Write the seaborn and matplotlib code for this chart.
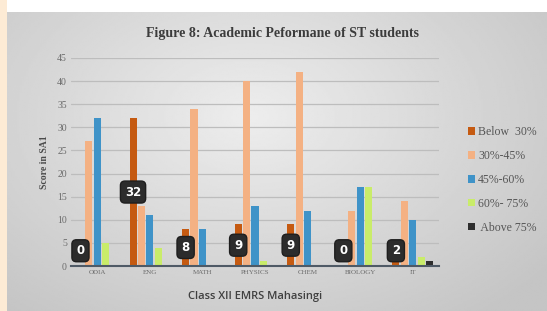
import numpy as np
import pandas as pd
import matplotlib
matplotlib.use("Agg")
import matplotlib.pyplot as plt
from matplotlib.patches import Rectangle
import seaborn as sns

subjects = ["ODIA", "ENG", "MATH", "PHYSICS", "CHEM", "BIOLOGY", "IT"]
bands = ["Below  30%", "30%-45%", "45%-60%", "60%- 75%", " Above 75%"]
below_30 = [0, 32, 8, 9, 9, 0, 2]
p30_45 = [27, 13, 34, 40, 42, 12, 14]
p45_60 = [32, 11, 8, 13, 12, 17, 10]
p60_75 = [5, 4, 0, 1, 0, 17, 2]
above_75 = [0, 0, 0, 0, 0, 0, 1]
colors = ["#C55A11", "#F4B183", "#3F93C8", "#C9EC6A", "#2E2E2E"]
title = "Figure 8: Academic Peformane of ST students"
xlabel = "Class XII EMRS Mahasingi"
ylabel = "Score in SA1"

series = [below_30, p30_45, p45_60, p60_75, above_75]
rows = []
for band, vals in zip(bands, series):
    for s, v in zip(subjects, vals):
        rows.append({"subject": s, "band": band, "score": v})
df = pd.DataFrame(rows)

sns.set_theme(style="white")
W, H = 547, 311
fig = plt.figure(figsize=(W / 100, H / 100), dpi=100)
fig.patch.set_facecolor("white")

# background: peach strip, white top, gray gradient panel
fig.add_artist(Rectangle((0, 0), 7 / W, 1, transform=fig.transFigure,
                         facecolor="#FDEBD5", edgecolor="none", zorder=-10))
bg = fig.add_axes([7 / W, 0, 1 - 7 / W, 1 - 12 / H], zorder=-5)
yy, xx = np.mgrid[0:1:200j, 0:1:300j]
r = np.sqrt(((xx - 0.45) / 0.75) ** 2 + ((yy - 0.35) / 0.9) ** 2)
grad = np.clip(0.93 - 0.17 * r, 0.77, 0.93)
bg.imshow(grad, cmap="gray", vmin=0, vmax=1, aspect="auto", extent=[0, 1, 0, 1])
bg.set_axis_off()

ax = fig.add_axes([71 / W, 1 - 266 / H, (439 - 71) / W, (266 - 58) / H])
ax.set_facecolor("none")
sns.barplot(data=df, x="subject", y="score", hue="band", order=subjects,
            hue_order=bands, palette=colors, width=0.8, saturation=1,
            linewidth=0, ax=ax, legend=True)
for c in ax.containers:
    for b in c:
        w = b.get_width()
        b.set_x(b.get_x() + w * 0.08)
        b.set_width(w * 0.84)
ax.set_ylim(0, 45)
ax.set_xlim(-0.5, len(subjects) - 0.5)
ax.set_yticks(range(0, 46, 5))
ax.yaxis.grid(True, color="#BDBDBD", linewidth=0.9)
ax.set_axisbelow(True)
for sp in ["top", "right", "left"]:
    ax.spines[sp].set_visible(False)
ax.spines["bottom"].set_color("#4F5A66")
ax.spines["bottom"].set_linewidth(1.5)
ax.tick_params(axis="both", length=0, pad=3)
for lab in ax.get_yticklabels():
    lab.set_fontfamily("Liberation Serif")
    lab.set_fontsize(7)
    lab.set_color("#6B6B6B")
for lab in ax.get_xticklabels():
    lab.set_fontfamily("Liberation Serif")
    lab.set_fontsize(5)
    lab.set_color("#6B6B6B")
ax.set_xlabel("")
ax.set_ylabel(ylabel, fontfamily="Liberation Serif", fontweight="bold",
              fontsize=7, color="#4A4A4A", labelpad=6)

# data labels for Below 30%
for bar, v in zip(ax.containers[0], below_30):
    cx = bar.get_x() + bar.get_width() / 2
    cy = max(v / 2, 3.3)
    ax.text(cx, cy, str(v), ha="center", va="center", color="white",
            fontsize=8.5, fontweight="bold", fontfamily="DejaVu Sans",
            bbox=dict(boxstyle="round,pad=0.38", facecolor="#2C2C2C",
                      edgecolor="#1E1E1E"), zorder=5)

handles, labels = ax.get_legend_handles_labels()
ax.get_legend().remove()
fig.legend(handles, labels, loc="center left", bbox_to_anchor=(457 / W, 1 - 180 / H),
           frameon=False, prop={"family": "Liberation Serif", "size": 8.5},
           handlelength=0.6, handleheight=0.6, handletextpad=0.3,
           labelspacing=1.0, labelcolor="#555555")

fig.text(282 / W, 1 - 33 / H, title, ha="center", va="center",
         fontfamily="Liberation Serif", fontweight="bold", fontsize=10,
         color="#3C3C3C")
fig.text(255 / W, 1 - 296 / H, xlabel, ha="center", va="center",
         fontfamily="Open Sans", fontweight="semibold", fontsize=8,
         color="#404040")

fig.savefig("out.png", dpi=100)
